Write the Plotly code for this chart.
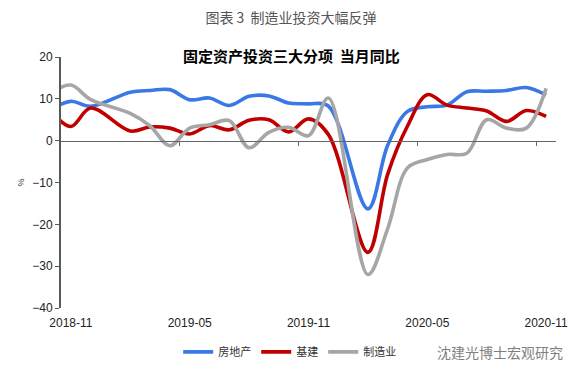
import plotly.graph_objects as go

# ---- data (monthly YoY, %) ----
months = ["2018-10", "2018-11", "2018-12", "2019-01", "2019-02", "2019-03", "2019-04",
          "2019-05", "2019-06", "2019-07", "2019-08", "2019-09", "2019-10", "2019-11",
          "2019-12", "2020-01", "2020-02", "2020-03", "2020-04", "2020-05", "2020-06",
          "2020-07", "2020-08", "2020-09", "2020-10", "2020-11"]
real_estate = [7.5, 9.4, 8.2, None, 11.6, 12.0, 12.2, 9.8, 10.2, 8.4, 10.6, 10.7, 9.0,
               8.8, 8.3, None, -16.3, -1.1, 7.0, 8.1, 8.5, 11.7, 11.8, 12.0, 12.7, 10.9]
infrastructure = [7.0, 3.4, 7.8, None, 2.3, 3.3, 3.0, 1.6, 3.6, 2.6, 4.9, 5.0, 2.1,
                  5.2, 1.5, None, -26.7, -8.0, 3.5, 11.0, 8.5, 7.8, 7.1, 4.6, 7.2, 5.8]
manufacturing = [11.5, 13.3, 9.8, None, 6.5, 3.5, -1.2, 3.0, 3.8, 4.8, -1.7, 2.0, 3.2,
                 1.2, 10.2, None, -32.0, -21.0, -6.5, -4.5, -3.3, -3.0, 5.0, 3.0, 3.0, 12.5]
series_names = ["房地产", "基建", "制造业"]
tick_labels = ["2018-11", "2019-05", "2019-11", "2020-05", "2020-11"]
y_ticks = [20, 10, 0, -10, -20, -30, -40]

title = "图表 3  制造业投资大幅反弹"
subtitle = "固定资产投资三大分项  当月同比"
watermark = "沈建光博士宏观研究"

x = list(range(len(months)))
label_pos = [months.index(m) for m in tick_labels]
boundary_ticks = [p - 0.5 for p in label_pos[1:]]

colors = ["#3A78E6", "#C00000", "#A6A6A6"]
font_cjk = "Noto Sans CJK SC, Arial, sans-serif"

fig = go.Figure()
data = [real_estate, infrastructure, manufacturing]
axes = ["x", "x2", "x2"]
for name, vals, col, ax in zip(series_names, data, colors, axes):
    fig.add_trace(go.Scatter(
        x=x, y=vals, name=name, mode="lines", xaxis=ax, yaxis="y",
        connectgaps=True,
        line=dict(color=col, width=3.6, shape="spline", smoothing=1.0),
    ))

W, H = 572, 374  # page body has an 8px margin
xr = [0.5, len(months) - 0.5]
fig.update_layout(
    width=W, height=H,
    margin=dict(l=50, r=24, t=49, b=74),
    paper_bgcolor="white", plot_bgcolor="white",
    font=dict(family="Arial, Liberation Sans, sans-serif", size=12, color="#333333"),
    title=dict(text=title, x=283 / W, xanchor="center", y=1 - 10 / H, yanchor="middle",
               font=dict(family=font_cjk, size=14, color="#555555")),
    xaxis=dict(range=xr, anchor="free", position=40 / 60, showline=True,
               linecolor="#666666", linewidth=1.3, ticks="outside", ticklen=4,
               tickcolor="#666666", tickvals=boundary_ticks, showticklabels=False,
               showgrid=False, zeroline=False),
    xaxis2=dict(range=xr, overlaying="x", anchor="y", side="bottom",
                tickvals=label_pos, ticktext=tick_labels, showline=False,
                ticks="outside", ticklen=4, tickcolor="rgba(0,0,0,0)",
                showgrid=False, zeroline=False,
                tickfont=dict(size=12, color="#222222")),
    yaxis=dict(range=[-40, 20], tickvals=y_ticks, showline=True, linecolor="#595959",
               linewidth=2, ticks="outside", ticklen=4, tickcolor="#595959",
               showgrid=False, zeroline=False, tickfont=dict(size=12, color="#222222"),
               title=dict(text="%", font=dict(size=9, color="#333333"), standoff=6)),
    legend=dict(orientation="h", x=0.462, xanchor="center", y=-0.175, yanchor="middle",
                font=dict(family=font_cjk, size=11, color="#333333"),
                itemwidth=30, tracegroupgap=0, bgcolor="rgba(0,0,0,0)"),
    showlegend=True,
)
fig.add_annotation(text="<b>" + subtitle + "</b>", xref="paper", yref="paper",
                   x=(290 - 58) / 498, y=(308 - 55) / 251, showarrow=False,
                   xanchor="center", yanchor="middle",
                   font=dict(family=font_cjk, size=15, color="#000000"))
fig.add_annotation(text=watermark, xref="paper", yref="paper",
                   x=(565 - 58) / 498, y=(308 - 352) / 251, showarrow=False,
                   xanchor="right", yanchor="middle",
                   font=dict(family=font_cjk, size=14, color="#7F7F7F"))

fig.write_html("out.html")
